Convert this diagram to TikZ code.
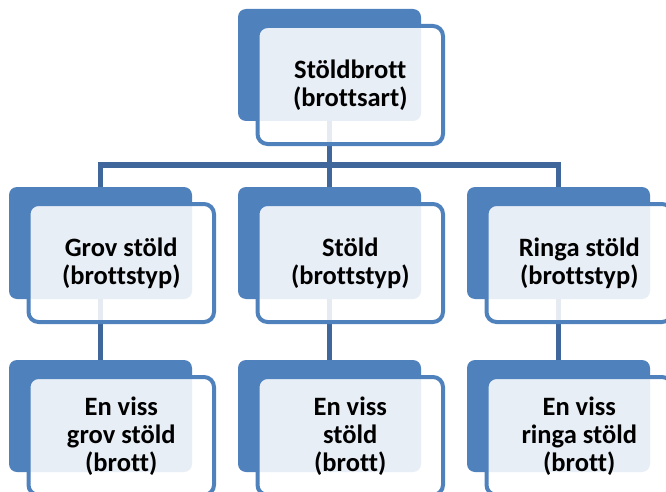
\documentclass[tikz,border=0pt]{standalone}
\usepackage{fontspec}
\setmainfont{Carlito}[Ligatures=NoCommon]
\usetikzlibrary{positioning,backgrounds}
\definecolor{accentblue}{HTML}{4F81BD}
\definecolor{linkblue}{HTML}{3F679C}
\tikzset{
	backbox/.style={rectangle, rounded corners=8pt, fill=accentblue, inner sep=0pt,
		minimum width=183pt, minimum height=112pt},
	frontbox/.style={rectangle, rounded corners=10pt, draw=accentblue, line width=4pt,
		fill=white, fill opacity=0.87, text opacity=1, inner sep=0pt,
		minimum width=185.5pt, minimum height=118pt, align=center,
		font=\fontsize{26.5}{28}\selectfont\bfseries},
	link/.style={draw=linkblue, line width=5.5pt}
}

\begin{document}
\begin{tikzpicture}[x=1pt, y=1pt]
	\useasboundingbox (0,0) rectangle (666,-492);
	\clip (0,0) rectangle (666,-492);

	% blue boxes behind
	\node[backbox] (art-bg) at (329.5,-65) {};
	\node[backbox] (grov-bg) at (100.5,-243) {};
	\node[backbox] (stold-bg) at (329.5,-243) {};
	\node[backbox] (ringa-bg) at (558.5,-243) {};
	\node[backbox] (grovEx-bg) at (100.5,-416) {};
	\node[backbox] (stoldEx-bg) at (329.5,-416) {};
	\node[backbox] (ringaEx-bg) at (558.5,-416) {};

	% text boxes in front
	\node[frontbox] (art) at ([shift={(20.75,-20)}]art-bg.center) {Stöldbrott\\(brottsart)};
	\node[frontbox] (grov) at ([shift={(20.75,-20)}]grov-bg.center) {Grov stöld\\(brottstyp)};
	\node[frontbox] (stold) at ([shift={(20.75,-20)}]stold-bg.center) {Stöld\\(brottstyp)};
	\node[frontbox] (ringa) at ([shift={(20.75,-20)}]ringa-bg.center) {Ringa stöld\\(brottstyp)};
	\node[frontbox] (grovEx) at ([shift={(20.75,-20)}]grovEx-bg.center) {En viss\\grov stöld\\(brott)};
	\node[frontbox] (stoldEx) at ([shift={(20.75,-20)}]stoldEx-bg.center) {En viss\\stöld\\(brott)};
	\node[frontbox] (ringaEx) at ([shift={(20.75,-20)}]ringaEx-bg.center) {En viss\\ringa stöld\\(brott)};

	% connectors
	\begin{scope}[on background layer]
		\draw[link] (art-bg.south) -- ++(0,-44) coordinate (bar);
		\draw[link] (grov-bg.north) |- (bar) -| (ringa-bg.north);
		\draw[link] (bar) -- (stold-bg.north);
		\draw[link] (grov-bg.south) -- (grovEx-bg.north);
		\draw[link] (stold-bg.south) -- (stoldEx-bg.north);
		\draw[link] (ringa-bg.south) -- (ringaEx-bg.north);
	\end{scope}
\end{tikzpicture}
\end{document}
